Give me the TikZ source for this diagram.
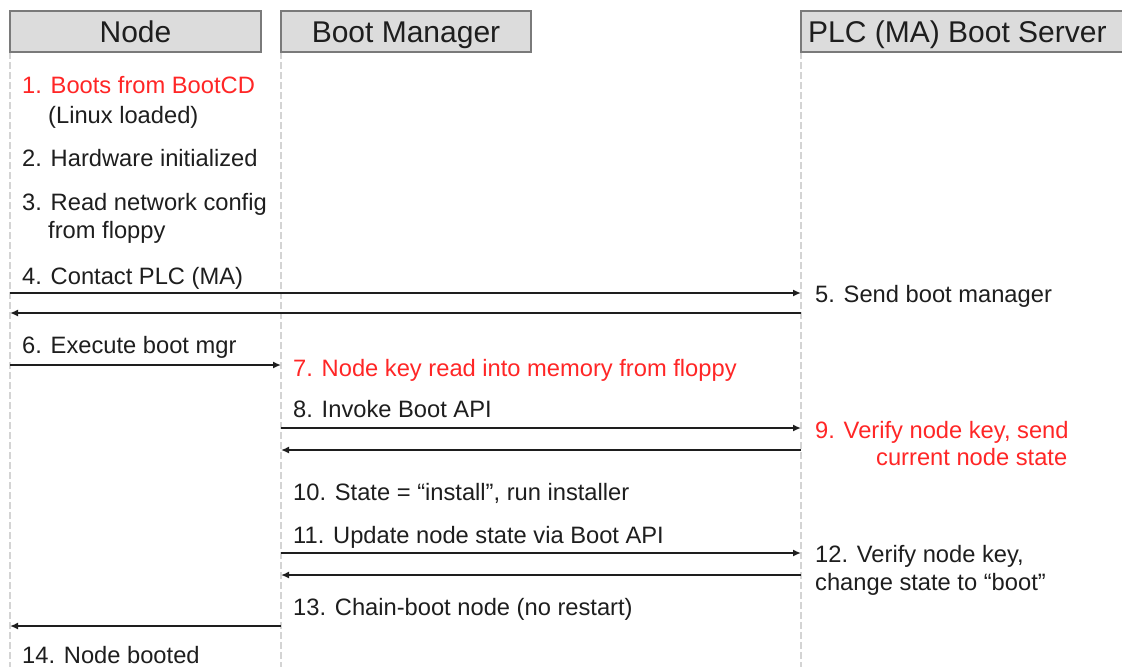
\documentclass[tikz,border=0pt]{standalone}
\usepackage{fontspec}
\setmainfont{Liberation Sans}
\usetikzlibrary{arrows.meta}
\definecolor{hdrfill}{HTML}{DCDCDC}
\definecolor{hdrdraw}{HTML}{7A7A7A}
\definecolor{life}{HTML}{D4D4D4}
\definecolor{txt}{HTML}{1E1E1E}
\definecolor{redtxt}{HTML}{FF2626}
\begin{document}
\begin{tikzpicture}[x=1pt,y=-1pt,
 hdr/.style={draw=hdrdraw, fill=hdrfill, line width=1.5pt},
 hdrtext/.style={font=\fontsize{30}{36}\selectfont, text=txt, inner sep=0pt, anchor=base},
 lbl/.style={font=\fontsize{23.7}{28}\selectfont, text=txt, inner sep=0pt, anchor=base west},
 redlbl/.style={lbl, text=redtxt},
 lifeline/.style={draw=life, line width=1.5pt, dash pattern=on 7pt off 3pt},
 msg/.style={draw=txt, line width=1.9pt, -{Latex[length=8pt,width=7pt]}}
]
\useasboundingbox (0,0) rectangle (1122,667);
\fill[white] (0,0) rectangle (1122,667);

% lifelines
\coordinate (lNtop) at (10,52);   \coordinate (lNbot) at (10,667);
\coordinate (lBtop) at (281,52);  \coordinate (lBbot) at (281,667);
\coordinate (lPtop) at (801,52);  \coordinate (lPbot) at (801,667);
\draw[lifeline] (lNtop) -- (lNbot);
\draw[lifeline] (lBtop) -- (lBbot);
\draw[lifeline] (lPtop) -- (lPbot);

% headers
\draw[hdr] (10,11) rectangle (261,52);
\draw[hdr] (281,11) rectangle (531,52);
\draw[hdr] (801,11) rectangle (1140,52);
\node[hdrtext] (hNode) at (135.5,42) {Node};
\node[hdrtext] (hBoot) at (406,42) {Boot Manager};
\node[hdrtext, anchor=base west] (hPLC) at (808,42) {PLC (MA) Boot Server};

% node column texts
\node[redlbl] (t1) at (22,93) {1. Boots from BootCD};
\node[lbl] (t1b) at (48,123) {(Linux loaded)};
\node[lbl] (t2) at (22,166) {2. Hardware initialized};
\node[lbl] (t3) at (22,210) {3. Read network config};
\node[lbl] (t3b) at (48,238) {from floppy};
\node[lbl] (t4) at (22,284) {4. Contact PLC (MA)};
\node[lbl] (t6) at (22,353) {6. Execute boot mgr};
\node[lbl] (t14) at (22,663) {14. Node booted};

% boot manager column texts
\node[redlbl] (t7) at (293,376) {7. Node key read into memory from floppy};
\node[lbl] (t8) at (293,417) {8. Invoke Boot API};
\node[lbl] (t10) at (293,500) {10. State = “install”, run installer};
\node[lbl] (t11) at (293,543) {11. Update node state via Boot API};
\node[lbl] (t13) at (293,615) {13. Chain-boot node (no restart)};

% server column texts
\node[lbl] (t5) at (815,302) {5. Send boot manager};
\node[redlbl] (t9) at (815,438) {9. Verify node key, send};
\node[redlbl] (t9b) at (876,465) {current node state};
\node[lbl] (t12) at (815,562) {12. Verify node key,};
\node[lbl] (t12b) at (815,590) {change state to “boot”};

% message coordinates
\coordinate (m4a) at (10,293);  \coordinate (m4b) at (801,293);
\coordinate (m5a) at (801,313); \coordinate (m5b) at (10,313);
\coordinate (m6a) at (10,365);  \coordinate (m6b) at (281,365);
\coordinate (m8a) at (281,428); \coordinate (m8b) at (801,428);
\coordinate (m9a) at (801,450); \coordinate (m9b) at (281,450);
\coordinate (m11a) at (281,553); \coordinate (m11b) at (801,553);
\coordinate (m12a) at (801,575); \coordinate (m12b) at (281,575);
\coordinate (m13a) at (281,626); \coordinate (m13b) at (10,626);

\draw[msg] (m4a) -- (m4b);
\draw[msg] (m5a) -- (m5b);
\draw[msg] (m6a) -- (m6b);
\draw[msg] (m8a) -- (m8b);
\draw[msg] (m9a) -- (m9b);
\draw[msg] (m11a) -- (m11b);
\draw[msg] (m12a) -- (m12b);
\draw[msg] (m13a) -- (m13b);
\end{tikzpicture}
\end{document}
